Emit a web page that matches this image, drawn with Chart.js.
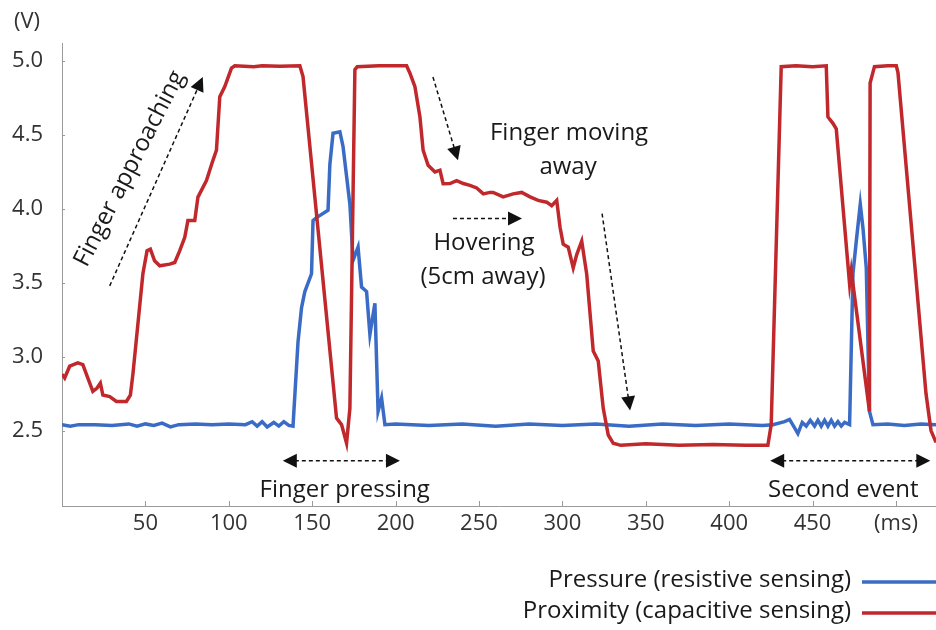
<!DOCTYPE html>
<html>
<head>
<meta charset="utf-8">
<script src="https://cdn.jsdelivr.net/npm/chart.js@4.4.1/dist/chart.umd.min.js"></script>
<style>
  html, body { margin: 0; padding: 0; background: #fff; }
  #wrap { width: 936px; height: 630px; }
</style>
</head>
<body>
<div id="wrap"><canvas id="sensorChart" width="936" height="630"></canvas></div>
<script>
// time (ms) and voltage (V)
const proximityT = [0, 1.6, 4.6, 9.5, 12.5, 15.5, 18.5, 21, 23, 24.5, 28.6, 32.6, 38.6, 41, 42.5, 45.5, 48.5,
  51, 53, 55.5, 58.6, 64.6, 67.6, 70.6, 73.6, 75.5, 79.6, 81.5, 86.6, 90.5, 92.6, 94.6, 97.6, 101.6, 103.6,
  115, 120, 130.6, 142.6, 144.5, 164.6, 167.6, 170.6, 172.6, 175.6, 177, 190, 206.6, 208.6, 211.6, 214.6,
  216.5, 219.5, 223.6, 226.6, 228.5, 232.6, 236.6, 240.6, 244.6, 248.6, 252.6, 256.6, 258.5, 264.5, 270.5,
  275.6, 280.6, 285.5, 290.6, 293.6, 296.6, 298.6, 300.5, 303.5, 306.5, 308.6, 311.6, 314.6, 318.5, 321.5,
  324.5, 327.5, 330.5, 335, 350, 370, 390, 410, 423.2, 425.2, 431.2, 440, 450, 458.2, 459.2, 462.2, 464.2,
  472.2, 473.2, 484.1, 484.5, 487.1, 495, 500.2, 501.2, 518, 521, 524];
const proximityV = [2.88, 2.855, 2.935, 2.957, 2.946, 2.855, 2.765, 2.787, 2.82, 2.74, 2.73, 2.697, 2.697, 2.74, 2.88, 3.22, 3.56,
  3.716, 3.727, 3.648, 3.614, 3.625, 3.636, 3.716, 3.806, 3.92, 3.92, 4.078, 4.19, 4.327, 4.395, 4.757, 4.825, 4.95, 4.966,
  4.96, 4.966, 4.963, 4.966, 4.893, 2.584, 2.54, 2.414, 2.65, 4.94, 4.96, 4.966, 4.966, 4.916, 4.825, 4.62,
  4.395, 4.293, 4.248, 4.26, 4.169, 4.17, 4.19, 4.17, 4.158, 4.14, 4.10, 4.11, 4.11, 4.08, 4.10,
  4.11, 4.08, 4.056, 4.044, 4.02, 4.056, 3.874, 3.76, 3.74, 3.60, 3.69, 3.78, 3.556, 3.037, 2.97,
  2.65, 2.47, 2.414, 2.40, 2.41, 2.40, 2.405, 2.40, 2.40, 2.54, 4.96, 4.966, 4.96, 4.966, 4.62, 4.577, 4.54,
  3.49, 3.58, 2.63, 4.85, 4.96, 4.966, 4.966, 4.92, 2.75, 2.5, 2.42];

const pressureT = [0, 5, 10, 20, 30, 40, 45, 50, 55, 60, 65, 70, 80, 90, 100, 110, 114, 117, 120, 123, 127, 130,
  133, 136, 138.5, 141.5, 143.6, 145.6, 149.6, 150.5, 152.6, 159.5, 160.6, 162.5, 166.6, 168.5, 172.6, 174.5,
  177.5, 179.6, 182.6, 184.6, 187.6, 189.5, 191.6, 193.6, 200, 220, 240, 260, 280, 300, 320, 340, 360, 380,
  400, 420, 426.2, 433.2, 436.2, 438.6, 441.2, 443.8, 446.2, 448.6, 451.2, 453.2, 455.2, 457.2, 459.2, 461.2,
  463.2, 465.2, 467.2, 469.2, 472.2, 474.2, 476.2, 478.6, 480.2, 482.2, 484.1, 486.2, 495, 505, 515, 524];
const pressureV = [2.54, 2.53, 2.54, 2.54, 2.535, 2.545, 2.53, 2.545, 2.535, 2.55, 2.525, 2.54, 2.545, 2.54, 2.545, 2.54, 2.56, 2.53, 2.56, 2.525, 2.555, 2.53,
  2.56, 2.535, 2.53, 3.1, 3.33, 3.44, 3.56, 3.92, 3.94, 3.99, 4.3, 4.51, 4.52, 4.42, 4.03, 3.65,
  3.74, 3.47, 3.44, 3.15, 3.36, 2.63, 2.72, 2.54, 2.545, 2.535, 2.545, 2.53, 2.545, 2.535, 2.545, 2.53, 2.545, 2.535,
  2.545, 2.535, 2.54, 2.56, 2.575, 2.53, 2.48, 2.555, 2.53, 2.57, 2.53, 2.57, 2.53, 2.57, 2.53, 2.57,
  2.53, 2.56, 2.53, 2.555, 2.54, 3.56, 3.78, 4.03, 3.87, 3.60, 2.63, 2.54, 2.545, 2.535, 2.545, 2.54];

const xTicks = [50, 100, 150, 200, 250, 300, 350, 400, 450, 500];
const xTickLabels = ['50', '100', '150', '200', '250', '300', '350', '400', '450', '(ms)'];
const yTicks = [2.5, 3.0, 3.5, 4.0, 4.5, 5.0];

const seriesNames = ['Pressure (resistive sensing)', 'Proximity (capacitive sensing)'];
const seriesColors = ['#3a6cc6', '#c0282c'];

// text notes and dashed arrows, placed in data units (ms, V)
const notes = [
  { text: 'Finger approaching', x: 40.6, y: 4.27, angle: -63 },
  { text: 'Finger moving', x: 304, y: 4.51 },
  { text: 'away', x: 303.4, y: 4.28 },
  { text: 'Hovering', x: 253, y: 3.764 },
  { text: '(5cm away)', x: 252.4, y: 3.54 },
  { text: 'Finger pressing', x: 169.5, y: 2.1 },
  { text: 'Second event', x: 468.4, y: 2.1 }
];
const arrows = [
  { x1: 28.6, y1: 3.478, x2: 84.4, y2: 4.89, both: false },
  { x1: 222.4, y1: 4.89, x2: 237.4, y2: 4.327, both: false },
  { x1: 234.4, y1: 3.933, x2: 275.8, y2: 3.933, both: false },
  { x1: 323.8, y1: 3.967, x2: 340.6, y2: 2.636, both: false },
  { x1: 132.4, y1: 2.296, x2: 202.6, y2: 2.296, both: true },
  { x1: 424.6, y1: 2.296, x2: 520.6, y2: 2.296, both: true }
];

const FONT = '"Open Sans", "DejaVu Sans", sans-serif';

function toPoints(ts, vs) {
  return ts.map((t, i) => ({ x: t, y: vs[i] }));
}

function arrowHead(ctx, xFrom, yFrom, xTo, yTo) {
  const a = Math.atan2(yTo - yFrom, xTo - xFrom);
  const len = 14, half = 7;
  ctx.beginPath();
  ctx.moveTo(xTo, yTo);
  ctx.lineTo(xTo - len * Math.cos(a) + half * Math.sin(a), yTo - len * Math.sin(a) - half * Math.cos(a));
  ctx.lineTo(xTo - len * Math.cos(a) - half * Math.sin(a), yTo - len * Math.sin(a) + half * Math.cos(a));
  ctx.closePath();
  ctx.fill();
}

const extrasPlugin = {
  id: 'extras',
  afterDraw(chart) {
    const ctx = chart.ctx;
    const xs = chart.scales.x, ys = chart.scales.y;
    const area = chart.chartArea;
    ctx.save();

    // small inward tick marks
    ctx.strokeStyle = '#9a9a9a';
    ctx.lineWidth = 1;
    xTicks.forEach(t => {
      const px = Math.round(xs.getPixelForValue(t)) + 0.5;
      ctx.beginPath(); ctx.moveTo(px, area.bottom); ctx.lineTo(px, area.bottom - 5); ctx.stroke();
    });
    yTicks.forEach(t => {
      const py = Math.round(ys.getPixelForValue(t)) + 0.5;
      ctx.beginPath(); ctx.moveTo(area.left, py); ctx.lineTo(area.left + 3, py); ctx.stroke();
    });

    // dashed arrows
    ctx.strokeStyle = '#111';
    ctx.fillStyle = '#111';
    ctx.lineWidth = 1.5;
    arrows.forEach(a => {
      const x1 = xs.getPixelForValue(a.x1), y1 = ys.getPixelForValue(a.y1);
      const x2 = xs.getPixelForValue(a.x2), y2 = ys.getPixelForValue(a.y2);
      const ang = Math.atan2(y2 - y1, x2 - x1);
      const sx = a.both ? x1 + 12 * Math.cos(ang) : x1, sy = a.both ? y1 + 12 * Math.sin(ang) : y1;
      ctx.setLineDash([4, 3]);
      ctx.beginPath();
      ctx.moveTo(sx, sy);
      ctx.lineTo(x2 - 12 * Math.cos(ang), y2 - 12 * Math.sin(ang));
      ctx.stroke();
      ctx.setLineDash([]);
      arrowHead(ctx, x1, y1, x2, y2);
      if (a.both) arrowHead(ctx, x2, y2, x1, y1);
    });

    // notes
    ctx.fillStyle = '#1a1a1a';
    ctx.font = '24px ' + FONT;
    ctx.textAlign = 'center';
    ctx.textBaseline = 'middle';
    notes.forEach(n => {
      const px = xs.getPixelForValue(n.x), py = ys.getPixelForValue(n.y);
      ctx.save();
      ctx.translate(px, py);
      if (n.angle) ctx.rotate(n.angle * Math.PI / 180);
      ctx.fillText(n.text, 0, 0);
      ctx.restore();
    });

    // axis unit
    ctx.fillStyle = '#333';
    ctx.font = '22px ' + FONT;
    ctx.fillText('(V)', 27, 22);

    // legend at bottom right
    ctx.textAlign = 'right';
    ctx.font = '24px ' + FONT;
    const rows = [580, 611];
    chart.data.datasets.forEach((ds, i) => {
      ctx.fillStyle = '#1a1a1a';
      ctx.fillText(ds.label, 851, rows[i]);
      ctx.strokeStyle = ds.borderColor;
      ctx.lineWidth = 3.5;
      ctx.beginPath();
      ctx.moveTo(862, rows[i] + 2);
      ctx.lineTo(936, rows[i] + 2);
      ctx.stroke();
    });
    ctx.restore();
  }
};

const ctx = document.getElementById('sensorChart').getContext('2d');
const chart = new Chart(ctx, {
  type: 'line',
  data: {
    datasets: [
      {
        label: seriesNames[0],
        data: toPoints(pressureT, pressureV),
        borderColor: seriesColors[0],
        borderWidth: 3.5,
        pointRadius: 0,
        tension: 0,
        order: 2
      },
      {
        label: seriesNames[1],
        data: toPoints(proximityT, proximityV),
        borderColor: seriesColors[1],
        borderWidth: 3.5,
        pointRadius: 0,
        tension: 0,
        order: 1
      }
    ]
  },
  options: {
    responsive: false,
    animation: false,
    layout: { padding: { top: 43, right: 0, left: 0, bottom: 0 } },
    plugins: {
      legend: { display: false },
      tooltip: { enabled: false }
    },
    scales: {
      x: {
        type: 'linear',
        min: 0,
        max: 524,
        grid: { display: false, drawTicks: false },
        border: { color: '#9a9a9a', width: 1 },
        afterBuildTicks: s => { s.ticks = xTicks.map(v => ({ value: v })); },
        afterFit: s => { s.height = 124; },
        ticks: {
          padding: 5,
          maxRotation: 0,
          autoSkip: false,
          color: '#333',
          font: { family: FONT, size: 22 },
          callback: (v, i) => xTickLabels[i]
        }
      },
      y: {
        min: 1.99,
        max: 5.12,
        grid: { display: false, drawTicks: false },
        border: { color: '#9a9a9a', width: 1 },
        afterBuildTicks: s => { s.ticks = yTicks.map(v => ({ value: v })); },
        afterFit: s => { s.width = 62; },
        ticks: {
          padding: 19,
          color: '#333',
          font: { family: FONT, size: 22 },
          callback: v => v.toFixed(1)
        }
      }
    }
  },
  plugins: [extrasPlugin]
});
</script>
</body>
</html>
